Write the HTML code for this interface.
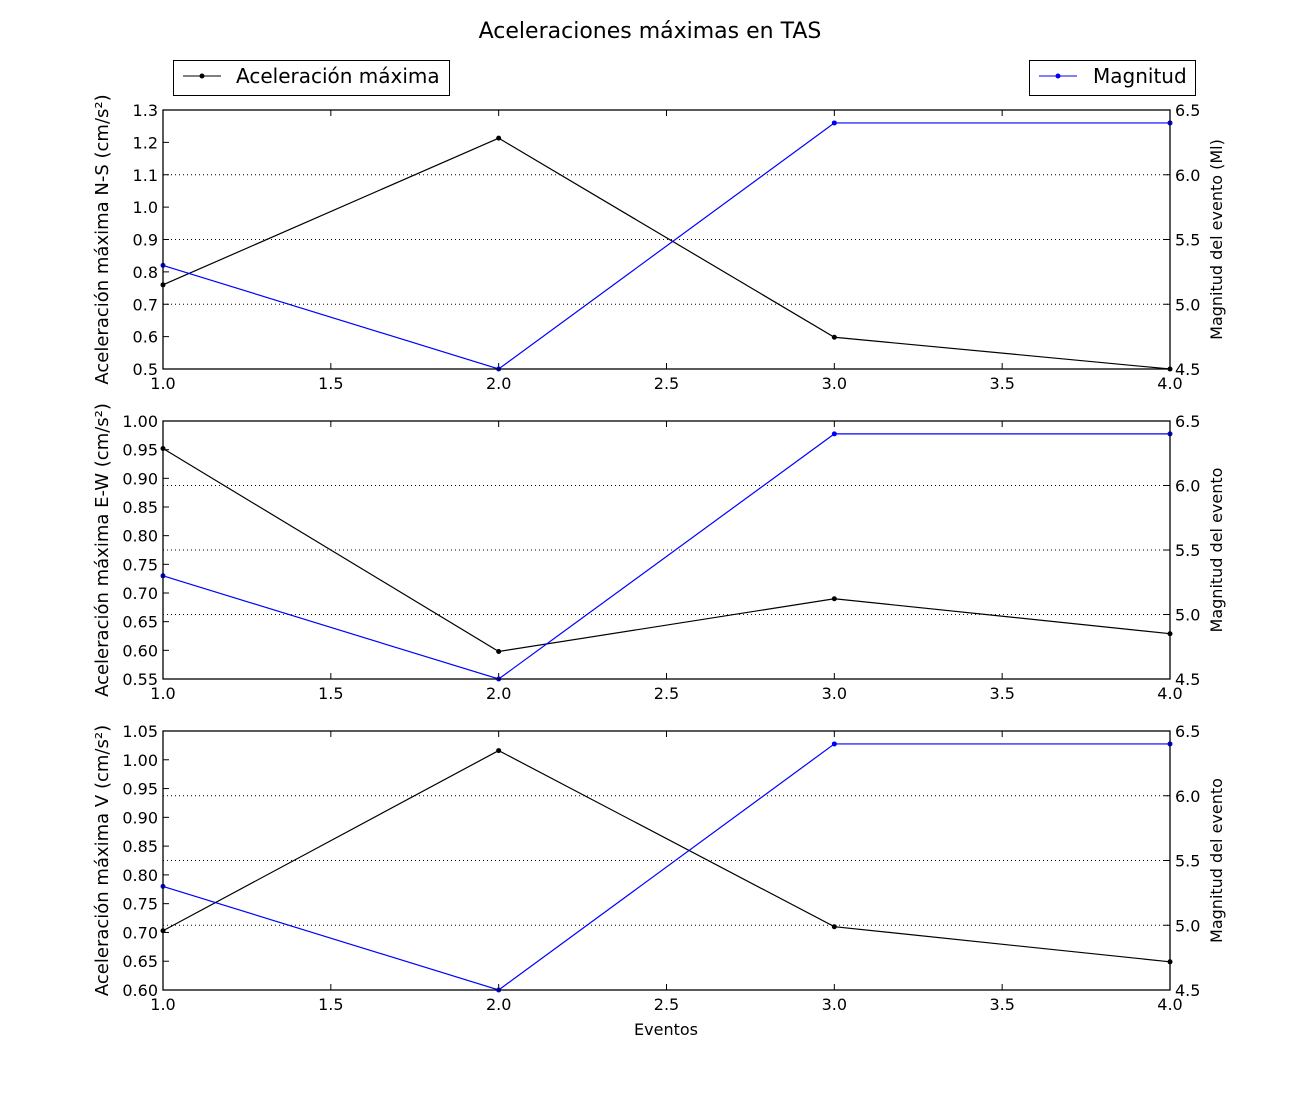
<!DOCTYPE html>
<html><head><meta charset="utf-8"><style>
body{margin:0;background:#fff;}
svg text{font-family:"DejaVu Sans","Liberation Sans",sans-serif;}
</style></head><body>
<svg id="chart" width="1300" height="1100" xmlns="http://www.w3.org/2000/svg">
<rect width="1300" height="1100" fill="#fff"/>
<text x="650" y="38" text-anchor="middle" font-size="22">Aceleraciones máximas en TAS</text>
<g>
<rect x="173.5" y="60.5" width="276" height="35" fill="#fff" stroke="#000"/>
<line x1="183" y1="76" x2="221" y2="76" stroke="#000"/><circle cx="202" cy="76" r="2.5" fill="#000"/>
<text x="236" y="83" font-size="20">Aceleración máxima</text></g>
<g>
<rect x="1029.5" y="60.5" width="166" height="35" fill="#fff" stroke="#000"/>
<line x1="1039" y1="76" x2="1077" y2="76" stroke="#00f"/><circle cx="1058" cy="76" r="2.5" fill="#00f"/>
<text x="1093" y="83" font-size="20">Magnitud</text></g>
<g id="plots"></g>
<text x="666" y="1035" text-anchor="middle" font-size="16">Eventos</text>
</svg>
<script>
const events = [1, 2, 3, 4];
const accNS = [0.76, 1.213, 0.598, 0.50];
const accEW = [0.952, 0.598, 0.69, 0.629];
const accV = [0.703, 1.016, 0.71, 0.649];
const magnitud = [5.3, 4.5, 6.4, 6.4];
const xTicks = [1.0, 1.5, 2.0, 2.5, 3.0, 3.5, 4.0];
const rightTicks = [4.5, 5.0, 5.5, 6.0, 6.5];
const ticksNS = [0.5,0.6,0.7,0.8,0.9,1.0,1.1,1.2,1.3];
const ticksEW = [0.55,0.60,0.65,0.70,0.75,0.80,0.85,0.90,0.95,1.00];
const ticksV = [0.60,0.65,0.70,0.75,0.80,0.85,0.90,0.95,1.00,1.05];

const NS='http://www.w3.org/2000/svg';
const g=document.getElementById('plots');
function el(t,a,p){const e=document.createElementNS(NS,t);for(const k in a)e.setAttribute(k,a[k]);(p||g).appendChild(e);return e;}
const X0=163,X1=1170;
const xs=v=>X0+(v-1)/3*(X1-X0);
const panels=[
 {top:110,bot:369,data:accNS,ticks:ticksNS,dec:1,yl:'Aceleración máxima N-S (cm/s²)',yr:'Magnitud del evento (Ml)',name:'ns'},
 {top:421,bot:679,data:accEW,ticks:ticksEW,dec:2,yl:'Aceleración máxima E-W (cm/s²)',yr:'Magnitud del evento',name:'ew'},
 {top:731,bot:990,data:accV,ticks:ticksV,dec:2,yl:'Aceleración máxima V (cm/s²)',yr:'Magnitud del evento',name:'v'}];
panels.forEach(p=>{
 const lo=p.ticks[0],hi=p.ticks[p.ticks.length-1];
 const yl=v=>p.bot-(v-lo)/(hi-lo)*(p.bot-p.top);
 const yr=v=>p.bot-(v-4.5)/2*(p.bot-p.top);
 const pg=el('g',{});
 
 
 rightTicks.forEach(t=>{const y=yr(t);
  const gl=el('line',{x1:X0,x2:X1,y1:y,y2:y,stroke:'#000','stroke-dasharray':'1,3','stroke-width':1},pg);
  
  el('line',{x1:X1,x2:X1-6,y1:y,y2:y,stroke:'#000'},pg);
  const tx=el('text',{x:X1+5,y:y+6,'font-size':16},pg);tx.textContent=t.toFixed(1);
  });
 p.ticks.forEach(t=>{const y=yl(t);
  el('line',{x1:X0,x2:X0+6,y1:y,y2:y,stroke:'#000'},pg);
  const tx=el('text',{x:X0-5,y:y+6,'font-size':16,'text-anchor':'end'},pg);tx.textContent=t.toFixed(p.dec);
  });
 xTicks.forEach(t=>{const x=xs(t);
  el('line',{x1:x,x2:x,y1:p.bot,y2:p.bot-6,stroke:'#000'},pg);
  el('line',{x1:x,x2:x,y1:p.top,y2:p.top+6,stroke:'#000'},pg);
  const tx=el('text',{x:x,y:p.bot+20,'font-size':16,'text-anchor':'middle'},pg);tx.textContent=t.toFixed(1);
  });
 const l1=el('polyline',{points:events.map((e,i)=>xs(e)+','+yl(p.data[i])).join(' '),fill:'none',stroke:'#000','stroke-width':1.2},pg);
 
 events.forEach((e,i)=>{const c=el('circle',{cx:xs(e),cy:yl(p.data[i]),r:2.5,fill:'#000'},pg);
  });
 const l2=el('polyline',{points:events.map((e,i)=>xs(e)+','+yr(magnitud[i])).join(' '),fill:'none',stroke:'#00f','stroke-width':1.2},pg);
 
 events.forEach((e,i)=>{const c=el('circle',{cx:xs(e),cy:yr(magnitud[i]),r:2.5,fill:'#00f'},pg);
  });
 el('rect',{x:X0,y:p.top,width:X1-X0,height:p.bot-p.top,fill:'none',stroke:'#000','stroke-width':1.3},pg);
 const mid=(p.top+p.bot)/2;
 const a=el('text',{x:0,y:0,'font-size':18,'text-anchor':'middle',transform:`translate(108,${mid}) rotate(-90)`},pg);a.textContent=p.yl;
 
 const b=el('text',{x:0,y:0,'font-size':16,'text-anchor':'middle',transform:`translate(1222,${mid}) rotate(-90)`},pg);b.textContent=p.yr;
 
});
</script>
</body></html>
